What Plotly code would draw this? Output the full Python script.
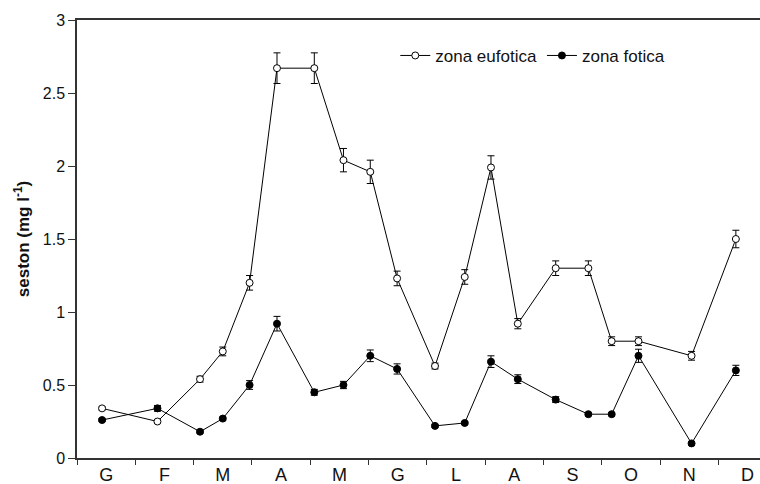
import plotly.graph_objects as go

# sampling positions expressed in months from 1 January (0 = start of G)
x_month = [0.43, 1.38, 2.11, 2.50, 2.96, 3.43, 4.07, 4.57, 5.03, 5.49,
           6.14, 6.65, 7.10, 7.56, 8.21, 8.77, 9.17, 9.63, 10.54, 11.30]

eufotica = [0.34, 0.25, 0.54, 0.73, 1.20, 2.67, 2.67, 2.04, 1.96, 1.23,
            0.63, 1.24, 1.99, 0.92, 1.30, 1.30, 0.80, 0.80, 0.70, 1.50]
eufotica_err = [0.01, 0.01, 0.02, 0.03, 0.05, 0.105, 0.105, 0.08, 0.08, 0.05,
                0.02, 0.05, 0.08, 0.035, 0.05, 0.05, 0.03, 0.03, 0.03, 0.06]

fotica = [0.26, 0.34, 0.18, 0.27, 0.50, 0.92, 0.45, 0.50, 0.70, 0.61,
          0.22, 0.24, 0.66, 0.54, 0.40, 0.30, 0.30, 0.70, 0.10, 0.60]
fotica_err = [0.01, 0.02, 0.01, 0.01, 0.03, 0.05, 0.02, 0.025, 0.04, 0.035,
              0.01, 0.01, 0.04, 0.03, 0.02, 0.01, 0.01, 0.045, 0.01, 0.035]

month_labels = ["G", "F", "M", "A", "M", "G", "L", "A", "S", "O", "N", "D"]
month_centres = [i + 0.5 for i in range(12)]
month_bounds = list(range(13))

y_ticks = [0, 0.5, 1, 1.5, 2, 2.5, 3]
y_ticktext = ["0", "0.5", "1", "1.5", "2", "2.5", "3"]

fig = go.Figure()

fig.add_trace(go.Scatter(
    x=x_month, y=eufotica, name="zona eufotica", mode="lines+markers",
    line=dict(color="black", width=1),
    marker=dict(symbol="circle", size=7, color="white",
                line=dict(color="black", width=1)),
    error_y=dict(type="data", array=eufotica_err, visible=True,
                 color="black", thickness=1, width=3.5),
))
fig.add_trace(go.Scatter(
    x=x_month, y=fotica, name="zona fotica", mode="lines+markers",
    line=dict(color="black", width=1),
    marker=dict(symbol="circle", size=7, color="black",
                line=dict(color="black", width=1)),
    error_y=dict(type="data", array=fotica_err, visible=True,
                 color="black", thickness=1, width=3.5),
))

fig.update_layout(
    width=760, height=484,
    margin=dict(l=77, r=0, t=20, b=26, autoexpand=False),
    paper_bgcolor="white", plot_bgcolor="white",
    font=dict(family="Arial, Liberation Sans, sans-serif", color="#111"),
    showlegend=True,
    legend=dict(orientation="h", x=0.466, y=0.918, xanchor="left", yanchor="middle",
                font=dict(size=17, color="#111"), itemwidth=30,
                bgcolor="rgba(0,0,0,0)", tracegroupgap=0),
    xaxis=dict(
        range=[0, 11.714], automargin=False,
        tickmode="array", tickvals=month_centres, ticktext=month_labels,
        ticks="outside", ticklen=0, tickcolor="rgba(0,0,0,0)",
        tickfont=dict(size=18, color="#111"),
        showgrid=False, zeroline=False,
        showline=True, linecolor="#333", linewidth=1.5, mirror=True,
        minor=dict(tickmode="array", tickvals=month_bounds, ticks="outside",
                   ticklen=5, tickwidth=1.2, tickcolor="#333", showgrid=False),
    ),
    yaxis=dict(
        range=[0, 3], automargin=False,
        tickmode="array", tickvals=y_ticks, ticktext=y_ticktext,
        ticks="outside", ticklen=7, tickwidth=1.2, tickcolor="#333",
        tickfont=dict(size=16, color="#111"),
        showgrid=False, zeroline=False,
        showline=True, linecolor="#333", linewidth=1.5,
        title=dict(text="<b>seston (mg l<sup>-1</sup>)</b>",
                   font=dict(size=17, color="#111"), standoff=9),
    ),
)

fig.write_html("out.html", config={"displayModeBar": False},
               post_script="document.body.style.margin='0';document.body.style.overflow='hidden';")
